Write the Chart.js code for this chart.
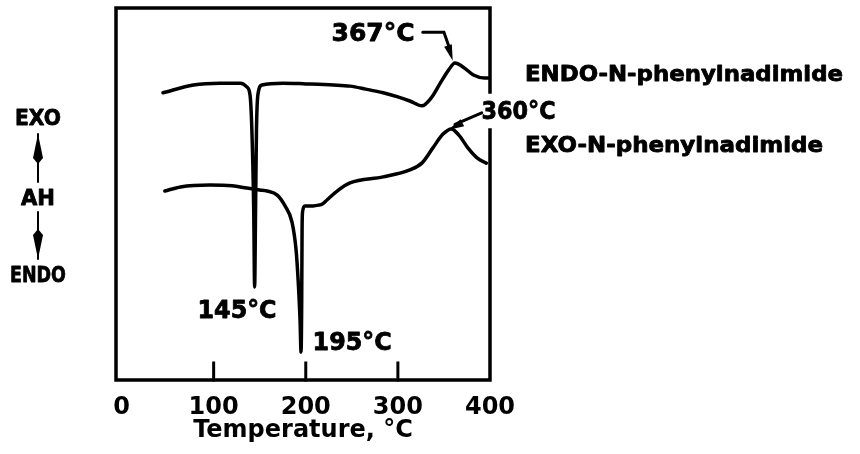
<!DOCTYPE html>
<html>
<head>
<meta charset="utf-8">
<script src="https://cdn.jsdelivr.net/npm/chart.js@4.4.0/dist/chart.umd.min.js"></script>
<style>
  body { margin: 0; background: #fff; }
</style>
</head>
<body>
<canvas id="dscChart" width="860" height="454"></canvas>
<script>
// DSC traces: temperature (°C) vs heat flow (arbitrary units)
const endoTemp = [45, 78, 107, 129, 136, 139.5, 141.5, 143.5, 144.5, 145.5, 146.5, 148, 152.5, 175, 200, 230, 248, 265, 284, 300, 313, 326, 337, 346, 355, 362, 371, 382, 394, 398];
const endoFlow = [77.2, 79.3, 79.8, 79.8, 78.8, 76.6, 67.2, 45.7, 25.0, 45.7, 67.2, 76.6, 79.3, 79.8, 79.6, 79.3, 79.0, 78.2, 77.2, 76.1, 75.0, 73.7, 76.1, 79.8, 83.3, 85.2, 84.1, 82.0, 81.2, 81.2];

const exoTemp = [47, 64, 96, 120, 136, 150, 158, 169, 177.5, 185, 189.5, 191.7, 193.8, 194.9, 195.6, 196, 196.5, 199, 208, 214, 218, 223, 234, 248, 284, 313, 326, 338, 349, 358, 366, 376, 386, 396];
const exoFlow = [50.8, 51.9, 52.4, 52.2, 51.6, 51.1, 50.8, 49.7, 46.8, 42.5, 34.9, 26.9, 16.1, 7.5, 21.5, 40.3, 45.2, 46.8, 46.8, 47.0, 47.3, 48.4, 50.8, 53.0, 54.6, 56.5, 58.3, 62.4, 66.1, 67.5, 65.9, 62.4, 59.7, 58.3];

const tempTicks = [0, 100, 200, 300, 400];
const innerTicks = [100, 200, 300];

const FONT = '"DejaVu Sans", "Liberation Sans", sans-serif';

function toPoints(xs, ys) {
    return xs.map((x, i) => ({ x: x, y: ys[i] }));
}

// heavy bold text squeezed/stretched to a given width
function stretchText(ctx, text, x, y, size, width, align) {
    ctx.save();
    ctx.font = 'bold ' + size + 'px ' + FONT;
    ctx.textBaseline = 'middle';
    ctx.textAlign = align || 'center';
    const k = width / ctx.measureText(text).width;
    ctx.translate(x, y);
    ctx.scale(k, 1);
    ctx.lineWidth = 0.8;
    ctx.lineJoin = 'round';
    ctx.fillText(text, 0, 0);
    ctx.strokeText(text, 0, 0);
    ctx.restore();
}

function arrowHead(ctx, x0, y0, x1, y1, len, half) {
    const a = Math.atan2(y1 - y0, x1 - x0);
    ctx.beginPath();
    ctx.moveTo(x1, y1);
    ctx.lineTo(x1 - len * Math.cos(a) + half * Math.sin(a), y1 - len * Math.sin(a) - half * Math.cos(a));
    ctx.lineTo(x1 - len * Math.cos(a) - half * Math.sin(a), y1 - len * Math.sin(a) + half * Math.cos(a));
    ctx.closePath();
    ctx.fill();
}

// long spear-shaped arrow used for the EXO / ENDO direction marks
function spearArrow(ctx, x, yBase, yTip) {
    const dir = yTip < yBase ? 1 : -1;
    ctx.lineWidth = 2;
    ctx.beginPath();
    ctx.moveTo(x, yBase);
    ctx.lineTo(x, yTip);
    ctx.stroke();
    ctx.beginPath();
    ctx.moveTo(x, yTip);
    ctx.lineTo(x + 5, yTip + dir * 24);
    ctx.lineTo(x, yTip + dir * 30);
    ctx.lineTo(x - 5, yTip + dir * 24);
    ctx.closePath();
    ctx.fill();
}

const decorPlugin = {
    id: 'dscDecor',
    afterDraw(chart) {
        const ctx = chart.ctx;
        const xs = chart.scales.x;
        const ys = chart.scales.y;
        const area = chart.chartArea;
        const px = t => xs.getPixelForValue(t);
        const py = v => ys.getPixelForValue(v);

        ctx.save();
        ctx.strokeStyle = '#000';
        ctx.fillStyle = '#000';
        ctx.lineCap = 'square';

        // frame, broken on the right where the 360°C label sits
        ctx.lineWidth = 3.5;
        ctx.beginPath();
        ctx.moveTo(area.right, py(77.4));
        ctx.lineTo(area.right, area.top);
        ctx.lineTo(area.left, area.top);
        ctx.lineTo(area.left, area.bottom);
        ctx.lineTo(area.right, area.bottom);
        ctx.lineTo(area.right, py(67.2));
        ctx.stroke();

        // inner tick marks
        ctx.lineWidth = 3;
        innerTicks.forEach(t => {
            ctx.beginPath();
            ctx.moveTo(px(t), area.bottom);
            ctx.lineTo(px(t), area.bottom - 17);
            ctx.stroke();
        });

        // peak labels
        stretchText(ctx, '145°C', px(125.4), py(18.3), 24, 79);
        stretchText(ctx, '195°C', px(250.3), py(9.7), 24, 79);
        stretchText(ctx, '367°C', px(273), py(92.8), 24, 83);
        stretchText(ctx, '360°C', px(431), py(71.8), 24, 74);

        // 367°C arrow
        ctx.lineWidth = 3;
        ctx.lineCap = 'round';
        ctx.beginPath();
        ctx.moveTo(px(327), py(93.5));
        ctx.lineTo(px(350), py(93.5));
        ctx.lineTo(px(357), py(88.5));
        ctx.stroke();
        arrowHead(ctx, px(350), py(93.5), px(359.5), py(85.8), 16, 4);

        // 360°C arrow
        ctx.beginPath();
        ctx.moveTo(px(391), py(71.8));
        ctx.lineTo(px(362), py(68.7));
        ctx.stroke();
        arrowHead(ctx, px(391), py(71.8), px(354.5), py(67.2), 16, 4);

        // series names
        stretchText(ctx, 'ENDO-N-phenylnadimide', 525, 76, 21, 318, 'left');
        stretchText(ctx, 'EXO-N-phenylnadimide', 525, 147, 21, 298, 'left');

        // vertical axis legend
        stretchText(ctx, 'EXO', 38, 119, 22, 46);
        stretchText(ctx, 'AH', 38, 199, 22, 34);
        stretchText(ctx, 'ENDO', 38, 276, 22, 56);
        spearArrow(ctx, 38, 182, 134);
        spearArrow(ctx, 38, 212, 259);

        ctx.restore();
    }
};

const lineStyle = {
    borderColor: '#000',
    borderWidth: 3.5,
    pointRadius: 0,
    fill: false,
    cubicInterpolationMode: 'monotone',
    borderJoinStyle: 'round',
    borderCapStyle: 'round'
};

new Chart(document.getElementById('dscChart'), {
    type: 'line',
    data: {
        datasets: [
            Object.assign({ label: 'ENDO-N-phenylnadimide', data: toPoints(endoTemp, endoFlow) }, lineStyle),
            Object.assign({ label: 'EXO-N-phenylnadimide', data: toPoints(exoTemp, exoFlow) }, lineStyle)
        ]
    },
    options: {
        responsive: false,
        animation: false,
        devicePixelRatio: 1,
        layout: { padding: { left: 116, right: 370, top: 8, bottom: 0 } },
        plugins: {
            legend: { display: false },
            tooltip: { enabled: false }
        },
        scales: {
            x: {
                type: 'linear',
                min: -6,
                max: 400,
                afterBuildTicks: scale => {
                    scale.ticks = tempTicks.map(v => ({ value: v }));
                },
                afterFit: scale => { scale.height = 74; },
                grid: { display: false, drawTicks: false },
                border: { display: false },
                ticks: {
                    autoSkip: false,
                    maxRotation: 0,
                    padding: 13,
                    color: '#000',
                    font: { family: FONT, size: 24, weight: 'bold' }
                },
                title: {
                    display: true,
                    text: 'Temperature, °C',
                    color: '#000',
                    padding: { top: 0, bottom: 9 },
                    font: { family: FONT, size: 24, weight: 'bold' }
                }
            },
            y: {
                display: false,
                min: 0,
                max: 100
            }
        }
    },
    plugins: [decorPlugin]
});
</script>
</body>
</html>
